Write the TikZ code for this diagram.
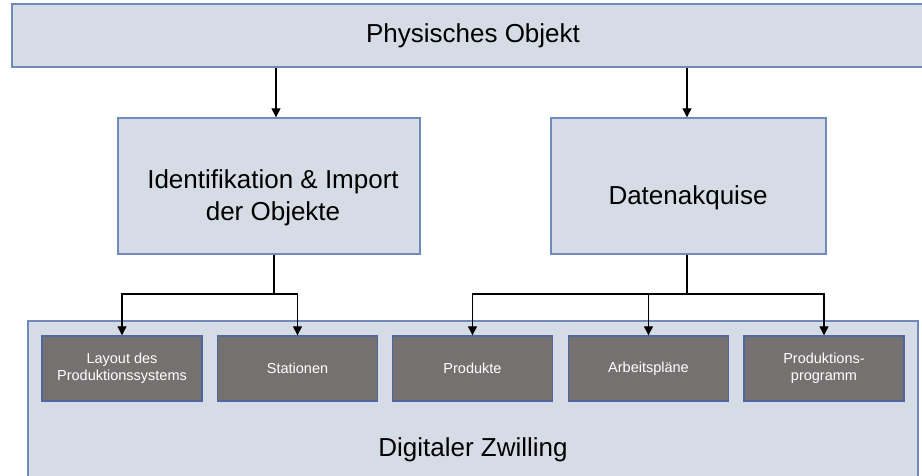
\documentclass[tikz,border=0pt]{standalone}
\usepackage{fontspec}
\setmainfont{Liberation Sans}
\usetikzlibrary{arrows.meta,calc}
\definecolor{lightfill}{RGB}{214,220,229}
\definecolor{lightedge}{RGB}{112,138,186}
\definecolor{darkfill}{RGB}{118,113,113}
\definecolor{darkedge}{RGB}{78,104,158}
\tikzset{
  bigbox/.style={draw=lightedge, fill=lightfill, line width=1.4pt, inner sep=0pt},
  smallbox/.style={draw=darkedge, fill=darkfill, line width=1.4pt, inner sep=0pt,
    minimum width=160pt, minimum height=65pt, text=white, align=center,
    font=\fontsize{14.5}{17}\selectfont},
  bigtext/.style={font=\fontsize{26}{32}\selectfont, align=center, text=black, inner sep=0pt},
  conn/.style={line width=1.3pt, draw=black},
  arr/.style={conn, -{Triangle[width=9pt,length=9pt]}}
}
\begin{document}
\begin{tikzpicture}[x=1pt,y=-1pt]
\useasboundingbox (0,0) rectangle (922,476);
\clip (0,0) rectangle (922,476);
\fill[white] (0,0) rectangle (922,476);
% top box
\node[bigbox, minimum width=922pt, minimum height=63pt] (top) at (473,35.5) {};
\node[bigtext] (toplabel) at (473,36) {Physisches Objekt};
% bottom big box
\node[bigbox, minimum width=890pt, minimum height=180pt] (dz) at (473,411) {};
\node[bigtext] (dzlabel) at (473,450) {Digitaler Zwilling};
% middle boxes
\node[bigbox, minimum width=302pt, minimum height=136pt] (lb) at (269,186) {};
\node[bigtext] (lblabel) at (273,198) {Identifikation \& Import\\der Objekte};
\node[bigbox, minimum width=275pt, minimum height=136pt] (rb) at (688.5,186) {};
\node[bigtext] (rblabel) at (688,198) {Datenakquise};
% small boxes
\node[smallbox] (s1) at (122,368.5) {Layout des\\Produktionssystems};
\node[smallbox] (s2) at (297.5,368.5) {Stationen};
\node[smallbox] (s3) at (472.5,368.5) {Produkte};
\node[smallbox] (s4) at (648.5,368.5) {Arbeitspläne};
\node[smallbox] (s5) at (824,368.5) {Produktions-\\programm};
% connectors from top
\coordinate (a1) at (276,118);
\coordinate (a2) at (687,118);
\draw[arr] (top.south -| a1) -- (lb.north -| a1);
\draw[arr] (top.south -| a2) -- (rb.north -| a2);
% connectors to small boxes
\coordinate (j1) at (274,294);
\coordinate (j2) at (687,294);
\draw[conn] (lb.south -| j1) -- (j1);
\draw[conn] (rb.south -| j2) -- (j2);
\draw[arr] (j1) -| (s1.north);
\draw[arr] (j1) -| (s2.north);
\draw[arr] (j2) -| (s3.north);
\draw[arr] (j2) -| (s4.north);
\draw[arr] (j2) -| (s5.north);
\end{tikzpicture}
\end{document}
